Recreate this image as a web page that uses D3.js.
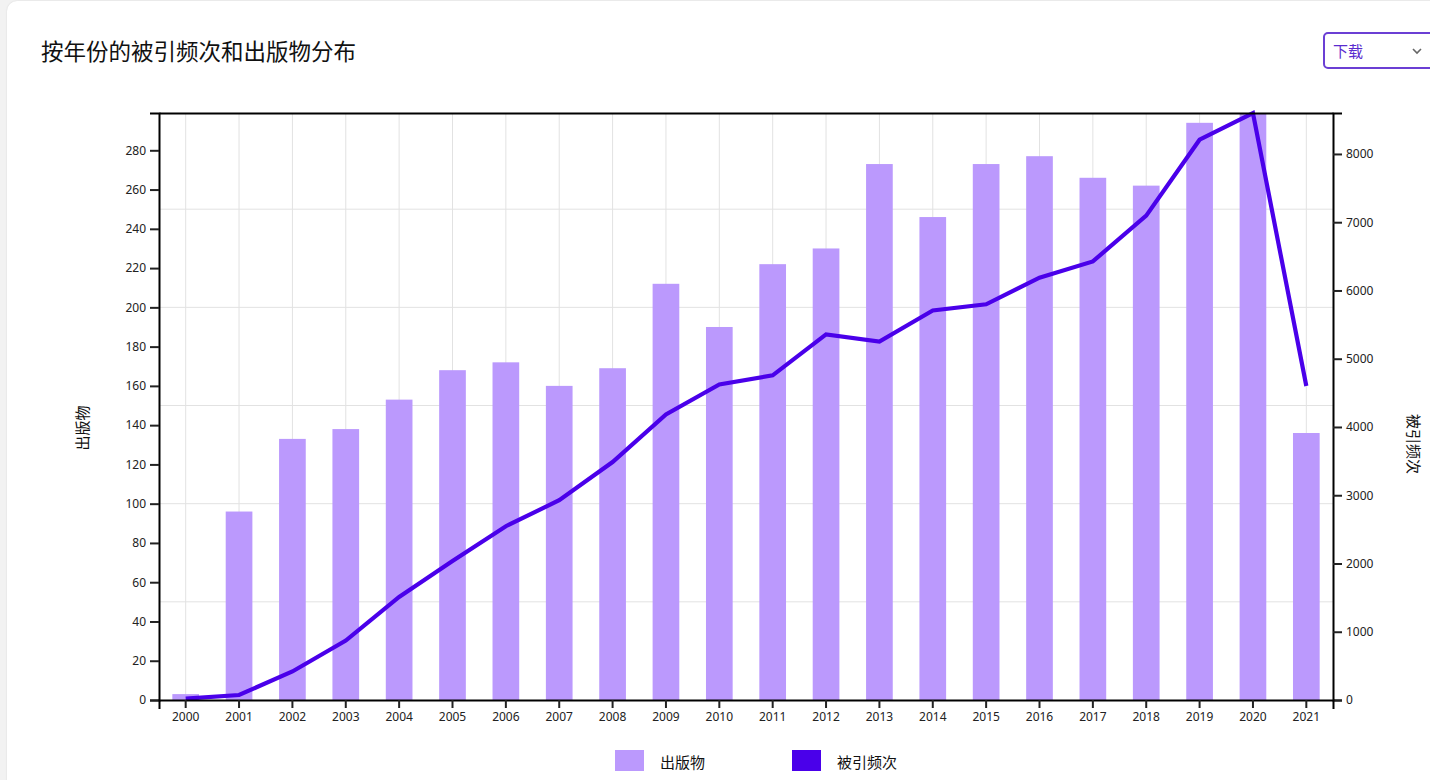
<!DOCTYPE html>
<html>
<head>
<meta charset="utf-8">
<script src="https://cdn.jsdelivr.net/npm/d3@7"></script>
<style>
  html, body { margin: 0; padding: 0; width: 1430px; height: 780px; overflow: hidden; background: #f2f2f2; font-family: "Noto Sans", "Noto Sans CJK SC", sans-serif; }
  #card { position: absolute; left: 7px; top: 1px; width: 1500px; height: 820px; background: #fff; border-radius: 10px; box-shadow: 0 0 2px rgba(0,0,0,0.12); }
  svg { position: absolute; left: 0; top: 0; }
</style>
</head>
<body>
<div id="card"></div>
<svg id="chart" width="1430" height="780"></svg>
<script>
const years = ["2000","2001","2002","2003","2004","2005","2006","2007","2008","2009","2010","2011","2012","2013","2014","2015","2016","2017","2018","2019","2020","2021"];
const publications = [3,96,133,138,153,168,172,160,169,212,190,222,230,273,246,273,277,266,262,294,299,136];
const citations = [20,73,418,870,1510,2035,2546,2927,3487,4185,4624,4756,5356,5250,5707,5797,6188,6426,7097,8209,8600,4600];
const leftTicks = [0,20,40,60,80,100,120,140,160,180,200,220,240,260,280];
const rightTicks = [0,1000,2000,3000,4000,5000,6000,7000,8000];
const titleText = "按年份的被引频次和出版物分布";
const leftLabel = "出版物";
const rightLabel = "被引频次";
const downloadLabel = "下载";

const barColor = "#bb99fd";
const lineColor = "#4a00ea";
const gridColor = "#e2e2e2";

const svg = d3.select("#chart");
const L = 159, R = 1333, T = 113, B = 700;

const x = d3.scaleBand().domain(years).range([L, R]).paddingInner(0.5).paddingOuter(0.25);
const cx = d => x(d) + x.bandwidth() / 2;
const yL = d3.scaleLinear().domain([0, d3.max(publications)]).range([B, T]);
const yR = d3.scaleLinear().domain([0, d3.max(citations)]).range([B, T]);

// Title
svg.append("text").attr("x", 41).attr("y", 60)
  .attr("font-family", "'Noto Sans CJK SC', sans-serif").attr("font-size", 22.5).attr("fill", "#111")
  .text(titleText);

// Download dropdown
const dd = svg.append("g");
dd.append("rect").attr("x", 1324).attr("y", 33).attr("width", 130).attr("height", 35).attr("rx", 4)
  .attr("fill", "#fff").attr("stroke", "#6b3fd4").attr("stroke-width", 2);
dd.append("text").attr("x", 1333).attr("y", 57).attr("font-family", "'Noto Sans CJK SC', sans-serif")
  .attr("font-size", 15).attr("fill", "#5a2ccf").text(downloadLabel);
dd.append("path").attr("d", "M1413,49 L1417,53 L1421,49").attr("fill", "none").attr("stroke", "#666").attr("stroke-width", 1.6);

// Grid
const grid = svg.append("g");
grid.selectAll("line.v").data(years).join("line")
  .attr("x1", d => cx(d)).attr("x2", d => cx(d)).attr("y1", T).attr("y2", B)
  .attr("stroke", gridColor).attr("stroke-width", 1);
grid.selectAll("line.h").data(yL.ticks(6).filter(v => v > 0)).join("line")
  .attr("x1", L).attr("x2", R).attr("y1", d => yL(d)).attr("y2", d => yL(d))
  .attr("stroke", gridColor).attr("stroke-width", 1);

// Bars
svg.append("g").selectAll("rect").data(years).join("rect")
  .attr("x", d => x(d)).attr("width", x.bandwidth())
  .attr("y", (d, i) => yL(publications[i])).attr("height", (d, i) => B - yL(publications[i]))
  .attr("fill", barColor);

// Line
const line = d3.line().x((d, i) => cx(years[i])).y(d => yR(d));
svg.append("path").datum(citations).attr("d", line)
  .attr("fill", "none").attr("stroke", lineColor).attr("stroke-width", 4.2).attr("stroke-linejoin", "miter");

// Axes
function styleAxis(g) {
  g.selectAll("path.domain").attr("stroke", "#000").attr("stroke-width", 2);
  g.selectAll(".tick line").attr("stroke", "#222").attr("stroke-width", 2);
  g.selectAll(".tick text").attr("font-family", "'Noto Sans', sans-serif").attr("font-size", 12).attr("fill", "#222");
}
svg.append("g").attr("transform", `translate(0,${T})`)
  .call(d3.axisTop(x).tickValues([]).tickSizeOuter(0)).call(styleAxis);
svg.append("g").attr("transform", `translate(${L},0)`)
  .call(d3.axisLeft(yL).tickValues(leftTicks).tickSize(9).tickPadding(4)).call(styleAxis);
svg.append("g").attr("transform", `translate(${R},0)`)
  .call(d3.axisRight(yR).tickValues(rightTicks).tickFormat(d3.format("d")).tickSize(9).tickPadding(4)).call(styleAxis);
svg.append("g").attr("transform", `translate(0,${B})`)
  .call(d3.axisBottom(x).tickSize(8).tickSizeOuter(9).tickPadding(4)).call(styleAxis);

// Axis titles
svg.append("text").attr("transform", "translate(81,428) rotate(-90)")
  .attr("text-anchor", "middle").attr("dominant-baseline", "central")
  .attr("font-family", "'Noto Sans CJK SC', sans-serif").attr("font-size", 15).attr("fill", "#111").text(leftLabel);
svg.append("text").attr("transform", "translate(1414,444) rotate(90)")
  .attr("text-anchor", "middle").attr("dominant-baseline", "central")
  .attr("font-family", "'Noto Sans CJK SC', sans-serif").attr("font-size", 15).attr("fill", "#111").text(rightLabel);

// Legend
const legendItems = [{label: leftLabel, color: barColor, x: 615}, {label: rightLabel, color: lineColor, x: 792}];
const lg = svg.append("g").selectAll("g").data(legendItems).join("g");
lg.append("rect").attr("x", d => d.x).attr("y", 750).attr("width", 29).attr("height", 21).attr("fill", d => d.color);
lg.append("text").attr("x", d => d.x + 45).attr("y", 761).attr("dominant-baseline", "central")
  .attr("font-family", "'Noto Sans CJK SC', sans-serif").attr("font-size", 15).attr("fill", "#111").text(d => d.label);
</script>
</body>
</html>
